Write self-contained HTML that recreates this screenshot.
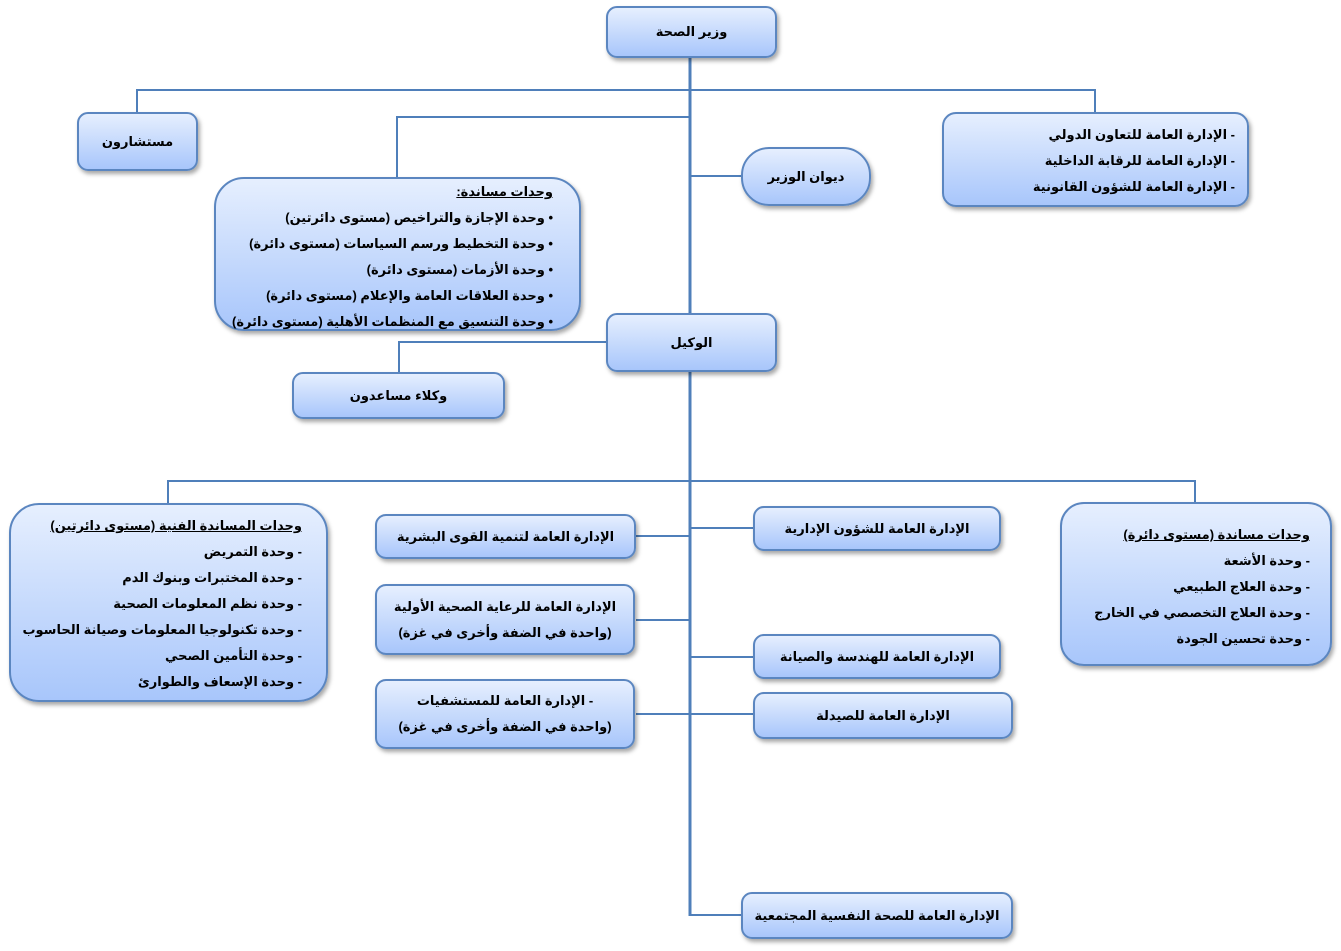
<!DOCTYPE html>
<html><head><meta charset="utf-8"><style>
body{margin:0;width:1341px;height:951px;background:#fff;position:relative;overflow:hidden;font-family:"Liberation Sans","Noto Sans CJK SC","DejaVu Sans",sans-serif;}
.b{position:absolute;box-sizing:border-box;border:2px solid #5b86c0;border-radius:11px;background:linear-gradient(#e6effe,#a8c6fb);box-shadow:2px 3px 4px rgba(0,0,0,0.35);direction:rtl;font-weight:bold;font-size:13px;color:#000;display:flex;align-items:center;justify-content:center;text-align:center;line-height:26px}
.l{display:block;text-align:right;padding:6px 12px 0 0;line-height:26px}
.u{text-decoration:underline}
svg{position:absolute;left:0;top:0}
</style></head><body>
<svg width="1341" height="951"><g stroke="#4f7fba" stroke-width="2" fill="none">
<line x1="690" y1="58" x2="690" y2="916" stroke-width="3"/>
<polyline points="137,112 137,90 1095,90 1095,112"/>
<polyline points="397,177 397,117 690,117"/>
<line x1="690" y1="176" x2="741" y2="176"/>
<polyline points="399,372 399,342 606,342"/>
<polyline points="168,503 168,481 1195,481 1195,503"/>
<line x1="636" y1="536" x2="690" y2="536"/>
<line x1="636" y1="620" x2="690" y2="620"/>
<line x1="636" y1="714" x2="690" y2="714"/>
<line x1="690" y1="528" x2="753" y2="528"/>
<line x1="690" y1="657" x2="753" y2="657"/>
<line x1="690" y1="714" x2="753" y2="714"/>
<line x1="690" y1="915" x2="741" y2="915"/>
</g></svg>
<div class="b" style="left:606px;top:6px;width:171px;height:52px">وزير الصحة</div>
<div class="b" style="left:77px;top:112px;width:121px;height:59px">مستشارون</div>
<div class="b l" style="left:942px;top:112px;width:307px;height:95px;border-radius:14px;padding-top:8px">- الإدارة العامة للتعاون الدولي<br>- الإدارة العامة للرقابة الداخلية<br>- الإدارة العامة للشؤون القانونية</div>
<div class="b" style="left:741px;top:147px;width:130px;height:59px;border-radius:28px">ديوان الوزير</div>
<div class="b l" style="left:214px;top:177px;width:367px;height:154px;border-radius:30px;padding-top:0px;padding-right:26px"><span class="u">وحدات مساندة:</span><br>• وحدة الإجازة والتراخيص (مستوى دائرتين)<br>• وحدة التخطيط ورسم السياسات (مستوى دائرة)<br>• وحدة الأزمات (مستوى دائرة)<br>• وحدة العلاقات العامة والإعلام (مستوى دائرة)<br>• وحدة التنسيق مع المنظمات الأهلية (مستوى دائرة)</div>
<div class="b" style="left:606px;top:313px;width:171px;height:59px">الوكيل</div>
<div class="b" style="left:292px;top:372px;width:213px;height:47px">وكلاء مساعدون</div>
<div class="b l" style="left:9px;top:503px;width:319px;height:199px;border-radius:30px;padding-top:8px;padding-right:24px"><span class="u">وحدات المساندة الفنية (مستوى دائرتين)</span><br>- وحدة التمريض<br>- وحدة المختبرات وبنوك الدم<br>- وحدة نظم المعلومات الصحية<br>- وحدة تكنولوجيا المعلومات وصيانة الحاسوب<br>- وحدة التأمين الصحي<br>- وحدة الإسعاف والطوارئ</div>
<div class="b" style="left:375px;top:514px;width:261px;height:45px">الإدارة العامة لتنمية القوى البشرية</div>
<div class="b" style="left:375px;top:584px;width:260px;height:71px">الإدارة العامة للرعاية الصحية الأولية<br>(واحدة في الضفة وأخرى في غزة)</div>
<div class="b" style="left:375px;top:679px;width:260px;height:70px">- الإدارة العامة للمستشفيات<br>(واحدة في الضفة وأخرى في غزة)</div>
<div class="b" style="left:753px;top:506px;width:248px;height:45px">الإدارة العامة للشؤون الإدارية</div>
<div class="b" style="left:753px;top:634px;width:248px;height:45px">الإدارة العامة للهندسة والصيانة</div>
<div class="b" style="left:753px;top:692px;width:260px;height:47px">الإدارة العامة للصيدلة</div>
<div class="b" style="left:741px;top:892px;width:272px;height:47px">الإدارة العامة للصحة النفسية المجتمعية</div>
<div class="b l" style="left:1060px;top:502px;width:272px;height:164px;border-radius:24px;padding-top:18px;padding-right:20px"><span class="u">وحدات مساندة (مستوى دائرة)</span><br>- وحدة الأشعة<br>- وحدة العلاج الطبيعي<br>- وحدة العلاج التخصصي في الخارج<br>- وحدة تحسين الجودة</div>
</body></html>
